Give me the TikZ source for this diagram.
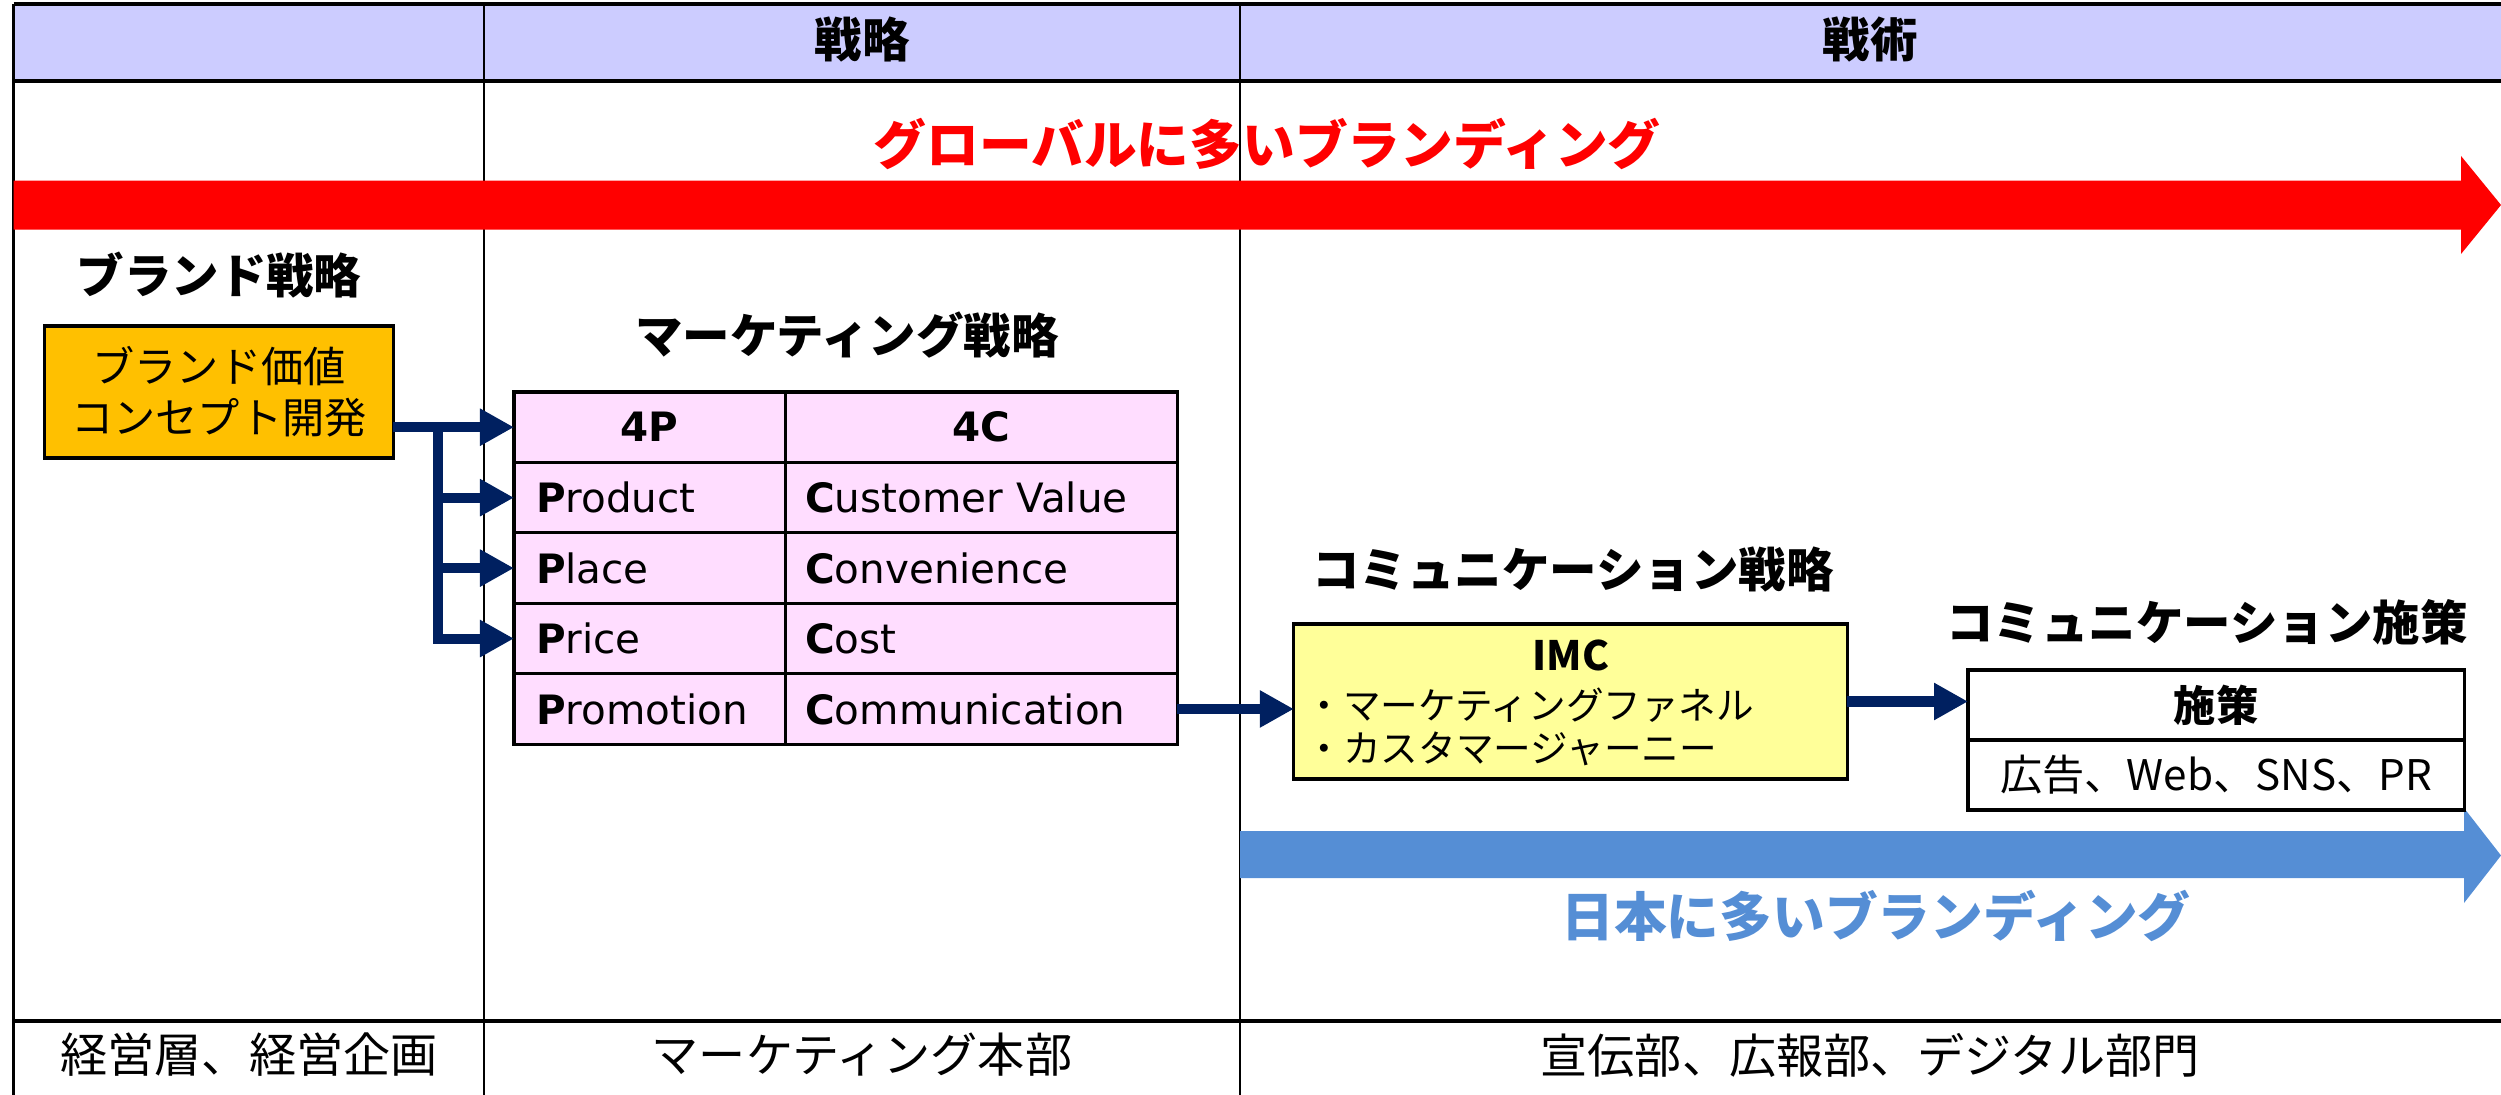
\documentclass[tikz,border=0pt]{standalone}
\usepackage{fontspec}
\setmainfont{Noto Sans CJK JP}
\newfontfamily\verdana{DejaVu Sans}
\usetikzlibrary{positioning,arrows.meta}

\definecolor{hdrblue}{HTML}{CCCCFF}
\definecolor{tblpink}{HTML}{FFDDFF}
\definecolor{brandorange}{HTML}{FFC000}
\definecolor{imcyellow}{HTML}{FFFF99}
\definecolor{navy}{HTML}{002060}
\definecolor{glred}{HTML}{FF0000}
\definecolor{jpblue}{HTML}{558ED5}

\begin{document}
\begin{tikzpicture}
  [x=0.01cm, y=-0.01cm,
   jhead/.style={font=\fontsize{13.5}{16}\selectfont\bfseries},
   jbig/.style={font=\fontsize{15}{18}\selectfont\bfseries},
   jbody/.style={font=\fontsize{13.4}{16}\selectfont},
   boxN/.style={draw, line width=0.9pt, outer sep=0pt},
   cellP/.style={boxN, fill=tblpink, inner xsep=0.22cm, inner ysep=0pt,
     text width=2.27cm, align=left, minimum height=0.704cm,
     font=\verdana\fontsize{11.5}{14}\selectfont},
   cellC/.style={cellP, inner xsep=0.2cm, text width=3.52cm},
   flow/.style={draw=navy, line width=0.1cm,
     -{Triangle[length=0.34cm,width=0.35cm]}}]

  \useasboundingbox (0,0) rectangle (2501,1095);

  % frame
  \fill[hdrblue] (13.5,4) rectangle (2501,81);
  \draw[line width=0.9pt] (13.5,4) -- (2501,4);
  \draw[line width=0.9pt] (13.5,81) -- (2501,81);
  \draw[line width=0.6pt] (13.5,4) -- (13.5,1095);
  \draw[line width=0.5pt] (484,4) -- (484,1095);
  \draw[line width=0.5pt] (1240,4) -- (1240,1095);
  \draw[line width=0.9pt] (13.5,1021) -- (2501,1021);

  \node[jhead] (hstrat) at (862,40)  {戦略};
  \node[jhead] (htact)  at (1870,40) {戦術};

  % big arrows
  \fill[glred] (13.5,180.6) -- (2461,180.6) -- (2461,156) -- (2501,205)
    -- (2461,254) -- (2461,229.7) -- (13.5,229.7) -- cycle;
  \node[jbig, text=glred] (global) at (1267,144) {グローバルに多いブランディング};

  \fill[jpblue] (1240,831) -- (2464,831) -- (2464,808) -- (2501,855.5)
    -- (2464,903) -- (2464,878) -- (1240,878) -- cycle;
  \node[jbig, text=jpblue] (japan) at (1876,916) {日本に多いブランディング};

  % brand
  \node[jhead] (brandH) at (219,275) {ブランド戦略};
  \node[boxN, fill=brandorange, minimum width=3.48cm, minimum height=1.32cm,
    align=center, font=\fontsize{12}{14.5}\selectfont] (brand) at (219,392)
    {ブランド価値\\コンセプト開発};

  % marketing
  \node[jhead] (mktH) at (847,335) {マーケティング戦略};

  \node[cellP, align=center, anchor=north west] (h4p) at (514,392) {\textbf{4P}};
  \node[cellC, align=center, right=0pt of h4p] (h4c) {\textbf{4C}};
  \node[cellP, below=0pt of h4p]   (prod)  {\textbf{P}roduct};
  \node[cellC, below=0pt of h4c]   (cval)  {\textbf{C}ustomer Value};
  \node[cellP, below=0pt of prod]  (place) {\textbf{P}lace};
  \node[cellC, below=0pt of cval]  (conv)  {\textbf{C}onvenience};
  \node[cellP, below=0pt of place] (price) {\textbf{P}rice};
  \node[cellC, below=0pt of conv]  (cost)  {\textbf{C}ost};
  \node[cellP, below=0pt of price] (promo) {\textbf{P}romotion};
  \node[cellC, below=0pt of cost]  (comm)  {\textbf{C}ommunication};

  \coordinate (fork) at (438,427);
  \draw[flow] (brand.east |- h4p.west) -- (h4p.west);
  \draw[flow] (fork) |- (prod.west);
  \draw[flow] (fork) |- (place.west);
  \draw[flow] (fork) |- (price.west);

  % communication
  \node[jhead] (comH) at (1573,570) {コミュニケーション戦略};
  \node[boxN, fill=imcyellow, minimum width=5.53cm, minimum height=1.55cm]
    (imc) at (1570.5,701.5) {};
  \node[font=\fontsize{11.5}{14}\selectfont\bfseries] (imct) at (1571,655) {IMC};
  \node[anchor=west, inner sep=0pt, align=left, font=\fontsize{10.7}{12.2}\selectfont]
    (imcl) at (1305,727) {・マーケティングファネル\\・カスタマージャーニー};

  \node[jhead] (actH) at (2207,622) {コミュニケーション施策};
  \node[boxN, fill=white, minimum width=4.96cm, minimum height=0.70cm,
    font=\fontsize{12}{14}\selectfont\bfseries, anchor=north west]
    (act) at (1968,670) {施策};
  \node[boxN, fill=white, minimum width=4.96cm, minimum height=0.70cm,
    font=\fontsize{12}{14}\selectfont, below=0pt of act]
    (actb) {広告、Web、SNS、PR};

  \draw[flow] (comm.east) -- (imc.west |- comm.east);
  \draw[flow] (imc.east) -- (act.west |- imc.east);

  % departments
  \node[jbody] (dep1) at (249,1055)  {経営層、経営企画};
  \node[jbody] (dep2) at (862,1055)  {マーケティング本部};
  \node[jbody] (dep3) at (1870,1055) {宣伝部、広報部、デジタル部門};

\end{tikzpicture}
\end{document}
